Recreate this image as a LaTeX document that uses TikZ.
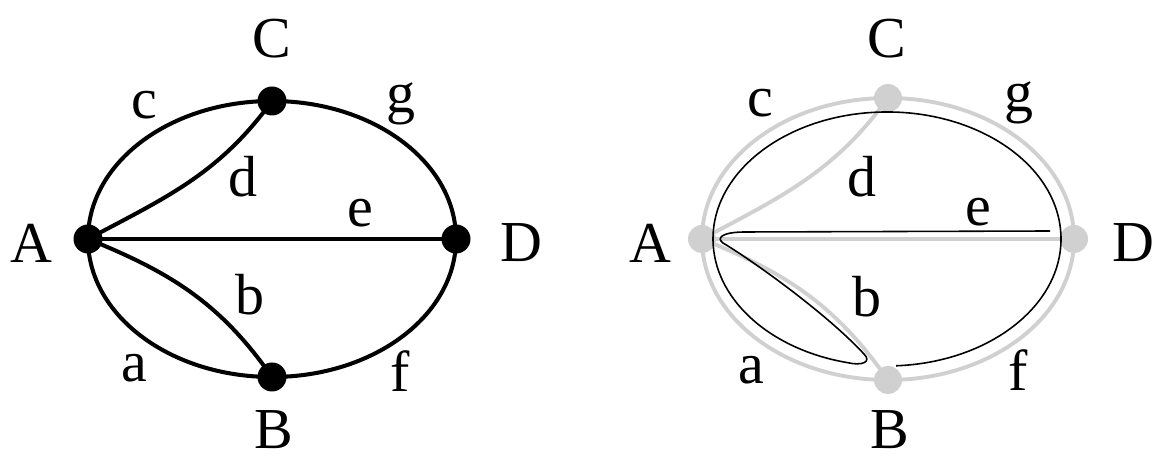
\documentclass[tikz,border=0pt]{standalone}
\usepackage{fontspec}
\setmainfont{Liberation Serif}
\definecolor{fadedgray}{RGB}{208,208,208}

\begin{document}
\begin{tikzpicture}[
      x=0.02cm, y=0.02cm,
      every node/.style={font=\fontsize{33}{38}\selectfont, inner sep=1pt},
      vertex/.style={circle, fill=black, inner sep=0pt, minimum size=0.58cm},
      ghost/.style={circle, fill=fadedgray, inner sep=0pt, minimum size=0.56cm},
      edge/.style={line width=2.3pt},
      ghostedge/.style={line width=2.2pt, draw=fadedgray},
      trail/.style={line width=0.9pt},
      tov/.style={out looseness=0.85, in looseness=1.13},
      toh/.style={out looseness=1.13, in looseness=0.85}
  ]
    \useasboundingbox (0,0) rectangle (1155,462);

    % left graph
    \node[vertex] (A1) at (88,223) {};
    \node[vertex] (C1) at (272,361) {};
    \node[vertex] (D1) at (456,223) {};
    \node[vertex] (B1) at (272,85) {};
    \draw[edge] (A1.center) to[out=90, in=180, tov] (C1.center);
    \draw[edge] (C1.center) to[out=0, in=90, toh] (D1.center);
    \draw[edge] (D1.center) to[out=-90, in=0, tov] (B1.center);
    \draw[edge] (B1.center) to[out=180, in=-90, toh] (A1.center);
    \draw[edge] (A1.center) to[out=28, in=-126] (C1.center);
    \draw[edge] (A1.center) -- (D1.center);
    \draw[edge] (A1.center) to[out=-22, in=125] (B1.center);

    \node (nA1) at (31,219) {A};
    \node (nC1) at (272,423) {C};
    \node (nD1) at (521,219) {D};
    \node (nB1) at (274,32) {B};
    \node (la1) at (134,94) {a};
    \node (lb1) at (250,167) {b};
    \node (lc1) at (144,357) {c};
    \node (ld1) at (243,285) {d};
    \node (le1) at (360,249) {e};
    \node (lf1) at (400,91) {f};
    \node (lg1) at (401,358) {g};

    % right graph
    \node[ghost] (A2) at (702,223) {};
    \node[ghost] (C2) at (888,364) {};
    \node[ghost] (D2) at (1074,223) {};
    \node[ghost] (B2) at (888,82) {};
    \draw[ghostedge] (A2.center) to[out=90, in=180, tov] (C2.center);
    \draw[ghostedge] (C2.center) to[out=0, in=90, toh] (D2.center);
    \draw[ghostedge] (D2.center) to[out=-90, in=0, tov] (B2.center);
    \draw[ghostedge] (B2.center) to[out=180, in=-90, toh] (A2.center);
    \draw[ghostedge] (A2.center) to[out=28, in=-126] (C2.center);
    \draw[ghostedge] (A2.center) -- (D2.center);
    \draw[ghostedge] (A2.center) to[out=-22, in=125] (B2.center);

    % the trail, from B round the rim, back along b and out along e
    \coordinate (start) at (896.1,96.2);
    \coordinate (tip) at (864,108);
    \coordinate (turn) at (723,219);
    \coordinate (stop) at (1050,231);
    \draw[trail] (start) arc[start angle=-87, end angle=257, x radius=174, y radius=127]
      .. controls (862,96) and (872,100) .. (tip)
      .. controls (825,150) and (750,203) .. (turn)
      .. controls (716,224) and (722,230) .. (745,230) -- (stop);

    \node (nA2) at (650,219) {A};
    \node (nC2) at (887,423) {C};
    \node (nD2) at (1133,219) {D};
    \node (nB2) at (890,32) {B};
    \node (la2) at (751,92) {a};
    \node (lb2) at (867,165) {b};
    \node (lc2) at (760,359) {c};
    \node (ld2) at (862,285) {d};
    \node (le2) at (978,250) {e};
    \node (lf2) at (1018,92) {f};
    \node (lg2) at (1019,359) {g};
  \end{tikzpicture}
\end{document}
